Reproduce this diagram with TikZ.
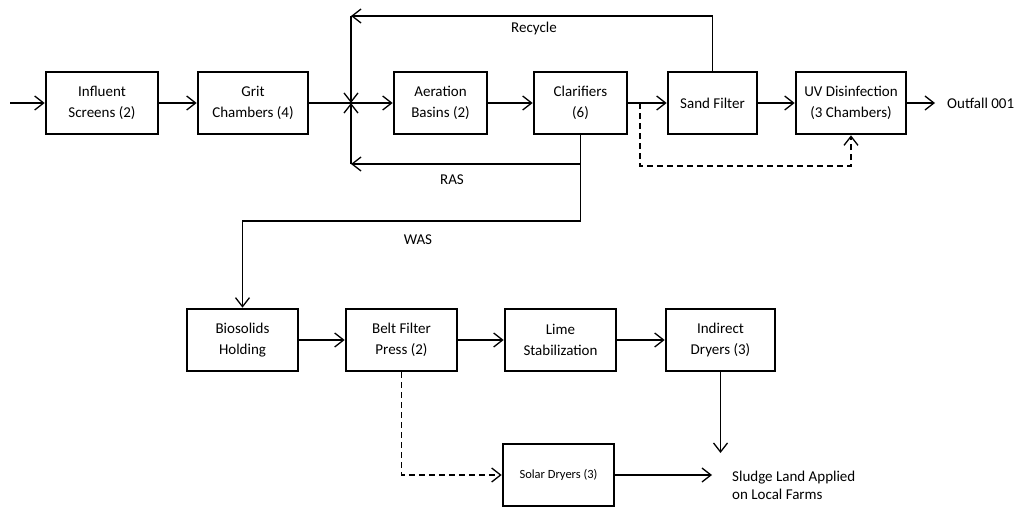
\documentclass[tikz,border=0pt]{standalone}
\usepackage{fontspec}
\setmainfont{Carlito}
\usetikzlibrary{arrows.meta}
\begin{document}
\begin{tikzpicture}[x=1pt,y=-1pt,
  box/.style={draw, line width=2.6pt, minimum height=62pt, inner sep=0pt, align=center, font=\fontsize{15}{21}\selectfont},
  lbl/.style={inner sep=0pt, font=\fontsize{15}{18}\selectfont},
  conn/.style={line width=1.3pt},
  arr/.style={line width=1.3pt, -{Straight Barb[length=9pt,width=14pt]}},
  dasharr/.style={line width=1.3pt, dash pattern=on 6pt off 4pt, -{Straight Barb[length=9pt,width=14pt]}}]
\useasboundingbox (0,0) rectangle (1023,511);
% top row
\node[box, minimum width=112pt] (scr) at (102,103) {Influent\\Screens (2)};
\node[box, minimum width=110pt] (grit) at (253,103) {Grit\\Chambers (4)};
\node[box, minimum width=93pt] (aer) at (440.5,103) {Aeration\\Basins (2)};
\node[box, minimum width=93pt] (clar) at (580.5,103) {Clarifiers\\(6)};
\node[box, minimum width=89pt] (sand) at (712.5,103) {Sand Filter};
\node[box, minimum width=110pt] (uv) at (851,103) {UV Disinfection\\(3 Chambers)};
\node[lbl, anchor=west] (out) at (947,103) {Outfall 001};
% bottom row
\node[box, minimum width=111pt] (bio) at (242.5,340) {Biosolids\\Holding};
\node[box, minimum width=111pt] (belt) at (401.5,340) {Belt Filter\\Press (2)};
\node[box, minimum width=111pt] (lime) at (560.5,340) {Lime\\Stabilization};
\node[box, minimum width=109pt] (ind) at (720.5,340) {Indirect\\Dryers (3)};
\node[box, minimum width=111pt, font=\fontsize{12.5}{15}\selectfont] (solar) at (558.5,475) {Solar Dryers (3)};
\node[lbl, anchor=west, align=left] (sludge) at (732,485) {Sludge Land Applied\\on Local Farms};
% labels
\node[lbl] (recl) at (534,29) {Recycle};
\node[lbl] (rasl) at (452,180) {RAS};
\node[lbl] (wasl) at (418,240) {WAS};
% coordinates
\coordinate (in) at (10,103);
\coordinate (J) at (351,103);
\coordinate (rc) at (351,16);
\coordinate (rasL) at (351,164);
\coordinate (wasC) at (242.5,221);
\coordinate (d1) at (640,103);
\coordinate (d2) at (640,166);
\coordinate (outT) at (935,103);
\coordinate (indT) at (720.5,453);
\coordinate (solT) at (712,475);
% top connectors
\draw[arr] (in) -- (scr.west);
\draw[arr] (scr.east) -- (grit.west);
\draw[conn] (grit.east) -- (J);
\draw[arr] (J) -- (aer.west);
\draw[arr] (aer.east) -- (clar.west);
\draw[arr] (clar.east) -- (sand.west);
\draw[arr] (sand.east) -- (uv.west);
\draw[arr] (uv.east) -- (outT);
\draw[arr] (sand.north) |- (rc);
\draw[arr] (rc) -- (J);
\draw[arr] (clar.south) |- (rasL);
\draw[arr] (rasL) -- (J);
\draw[arr] (clar.south) |- (wasC) -- (bio.north);
\draw[dasharr] (d1) -- (d2) -| (uv.south);
% bottom connectors
\draw[arr] (bio.east) -- (belt.west);
\draw[arr] (belt.east) -- (lime.west);
\draw[arr] (lime.east) -- (ind.west);
\draw[arr] (ind.south) -- (indT);
\draw[arr] (solar.east) -- (solT);
\draw[dasharr] (belt.south) |- (solar.west);
\end{tikzpicture}
\end{document}
